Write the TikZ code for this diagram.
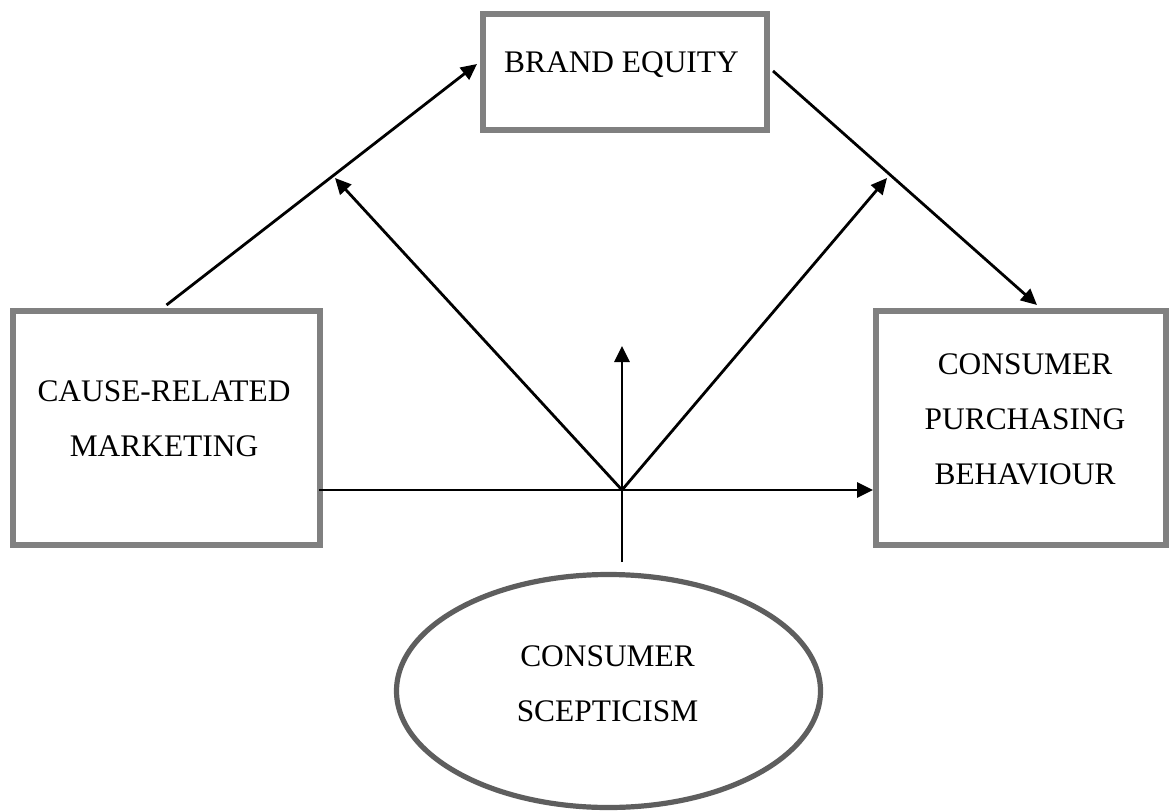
\documentclass[tikz,border=0pt]{standalone}
\usepackage{fontspec}
\setmainfont{Liberation Serif}
\usetikzlibrary{arrows.meta,shapes.geometric}
\definecolor{boxgray}{HTML}{808080}
\definecolor{ovalgray}{HTML}{5E5E5E}
\begin{document}
\begin{tikzpicture}[x=0.5pt,y=-0.5pt,
  frame/.style={draw=boxgray,line width=3pt,fill=white,inner sep=0pt},
  oval/.style={ellipse,draw=ovalgray,line width=2.6pt,fill=white,inner sep=0pt},
  lbl/.style={font=\fontsize{15.7}{27.5}\selectfont,align=center,inner sep=0pt,text depth=0pt,text=black},
  link/.style={line width=1.4pt,-{Triangle[length=8pt,width=7.5pt]}}]
\useasboundingbox (0,0) rectangle (1170,812);

% boxes and the moderator oval
\node[frame,minimum width=142pt,minimum height=58pt] (be) at (625,72) {};
\node[lbl] (beT) at (621.5,62.5) {BRAND EQUITY};

\node[frame,minimum width=153.5pt,minimum height=117pt] (crm) at (166.5,428) {};
\node[lbl] (crmT) at (164,418.5) {CAUSE-RELATED\\MARKETING};

\node[frame,minimum width=145pt,minimum height=117pt] (cpb) at (1021,428) {};
\node[lbl] (cpbT) at (1025,419) {CONSUMER\\PURCHASING\\BEHAVIOUR};

\node[oval,minimum width=212pt,minimum height=116.5pt] (cs) at (608.5,691) {};
\node[lbl] (csT) at (607.5,684) {CONSUMER\\SCEPTICISM};

% free ends of the moderating arrows
\coordinate (hub) at (622,490);
\coordinate (foot) at (622,562);
\coordinate (up) at (622,346);
\coordinate (ltip) at (335,178);
\coordinate (rtip) at (887,178);

% paths
\draw[link] ([yshift=1.5pt]crm.north) -- ([xshift=-1.5pt,yshift=4pt]be.west);
\draw[link] ([xshift=1.5pt,yshift=0.5pt]be.east) -- ([xshift=8pt,yshift=1.5pt]cpb.north);
\draw[link] ([xshift=-2pt,yshift=-31pt]crm.east) -- ([yshift=-31pt]cpb.west);
\draw[link] (foot) -- (up);
\draw[link] (hub) -- (ltip);
\draw[link] (hub) -- (rtip);
\end{tikzpicture}
\end{document}
